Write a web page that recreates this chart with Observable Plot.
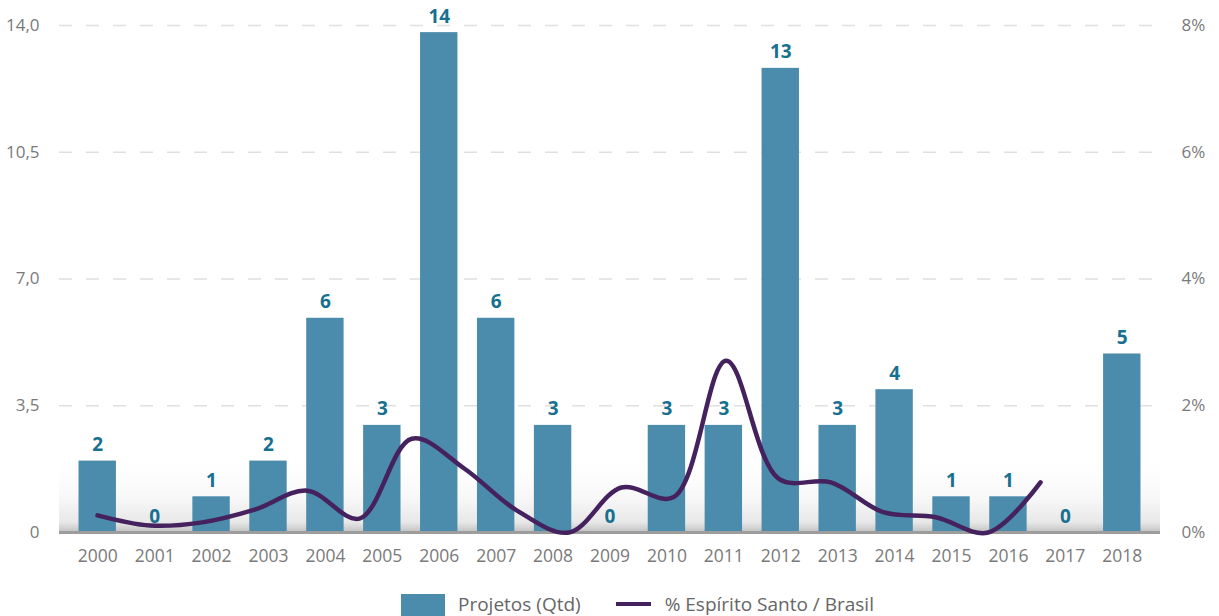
<!DOCTYPE html>
<html><head><meta charset="utf-8">
<script src="https://cdn.jsdelivr.net/npm/d3@7"></script>
<script src="https://cdn.jsdelivr.net/npm/@observablehq/plot@0.6"></script>
<style>
html,body{margin:0;padding:0;background:#fff;overflow:hidden;}
#wrap{position:relative;width:1219px;height:585px;}
#wrap svg{position:absolute;left:0;top:0;}
#legend{display:flex;align-items:flex-start;margin-left:401px;padding-top:7px;font-family:"Open Sans",sans-serif;font-size:19px;color:#666;}
#legend .sq{width:44px;height:22px;background:#4b8cac;margin-right:13px;margin-top:2px;}
#legend .ln{width:35px;height:4px;background:#45225e;margin-top:10px;margin-right:14px;margin-left:35px;}
#legend span{line-height:24px;}
</style>
</head><body>
<div id="wrap"></div>
<div id="legend"><div class="sq"></div><span>Projetos (Qtd)</span><div class="ln"></div><span>% Espírito Santo / Brasil</span></div>
<script>
const years = ["2000","2001","2002","2003","2004","2005","2006","2007","2008","2009","2010","2011","2012","2013","2014","2015","2016","2017","2018"];
const projetos = [2,0,1,2,6,3,14,6,3,0,3,3,13,3,4,1,1,0,5];
const pctES = [0.27,0.11,0.16,0.36,0.66,0.22,1.48,1.01,0.35,0.0,0.71,0.56,2.71,0.85,0.79,0.32,0.24,0.0,0.79];
const leftTicks = [0, 3.55, 7.1, 10.65, 14.2];
const leftTickLabels = ["0","3,5","7,0","10,5","14,0"];
const pctTicks = [0, 2, 4, 6, 8];

const table = years.map((y, i) => ({year: y, projetos: projetos[i], pct: pctES[i]}));

const baseStyle = {fontFamily: "'Open Sans', sans-serif", fontSize: "17px", color: "#7a7a7a", background: "transparent"};

const main = Plot.plot({
  width: 1219, height: 585,
  marginTop: 25, marginBottom: 53, marginLeft: 59, marginRight: 59,
  style: baseStyle,
  x: {type: "band", domain: years, paddingInner: 0.343, paddingOuter: 0.343, round: false, axis: null},
  y: {domain: [0, 14.2]},
  marks: [
    Plot.rect([{}], {y1: 0, y2: 2.3, fill: "url(#shade)"}),
    Plot.ruleY(leftTicks.slice(1), {stroke: "#e0e0e0", strokeWidth: 1.5, strokeDasharray: "13,14"}),
    Plot.barY(table, {x: "year", y: "projetos", fill: "#4b8cac"}),
    Plot.ruleY([0], {stroke: "#9d9d9d", strokeWidth: 3}),
    Plot.text(table, {x: "year", y: "projetos", text: d => String(d.projetos), dy: -16, fill: "#17708f", fontWeight: "bold", fontSize: 19}),
    Plot.axisX({tickSize: 0, tickPadding: 17, label: null, fontSize: 17.5}),
    Plot.axisY({ticks: leftTicks, tickFormat: d => leftTickLabels[leftTicks.indexOf(d)], tickSize: 0, tickPadding: 20, label: null})
  ]
});
d3.select(main).insert("defs", ":first-child").html(
  '<linearGradient id="shade" x1="0" y1="0" x2="0" y2="1">' +
  '<stop offset="0" stop-color="#ffffff" stop-opacity="0"/>' +
  '<stop offset="0.6" stop-color="#f7f7f7"/>' +
  '<stop offset="0.88" stop-color="#e8e8e8"/>' +
  '<stop offset="1" stop-color="#c2c2c2"/>' +
  '</linearGradient>');

const overlay = Plot.plot({
  width: 1219, height: 585,
  marginTop: 25, marginBottom: 53, marginLeft: 97, marginRight: 179,
  style: baseStyle,
  x: {type: "point", domain: years, padding: 0, round: false, axis: null},
  y: {domain: [0, 8]},
  marks: [
    Plot.axisY({anchor: "right", ticks: pctTicks, tickFormat: d => d + "%", tickSize: 0, tickPadding: 141, label: null}),
    Plot.line(table, {x: "year", y: "pct", curve: "catmull-rom", stroke: "#45225e", strokeWidth: 4.5})
  ]
});

const wrap = document.getElementById("wrap");
wrap.appendChild(main);
wrap.appendChild(overlay);
</script>
</body></html>
